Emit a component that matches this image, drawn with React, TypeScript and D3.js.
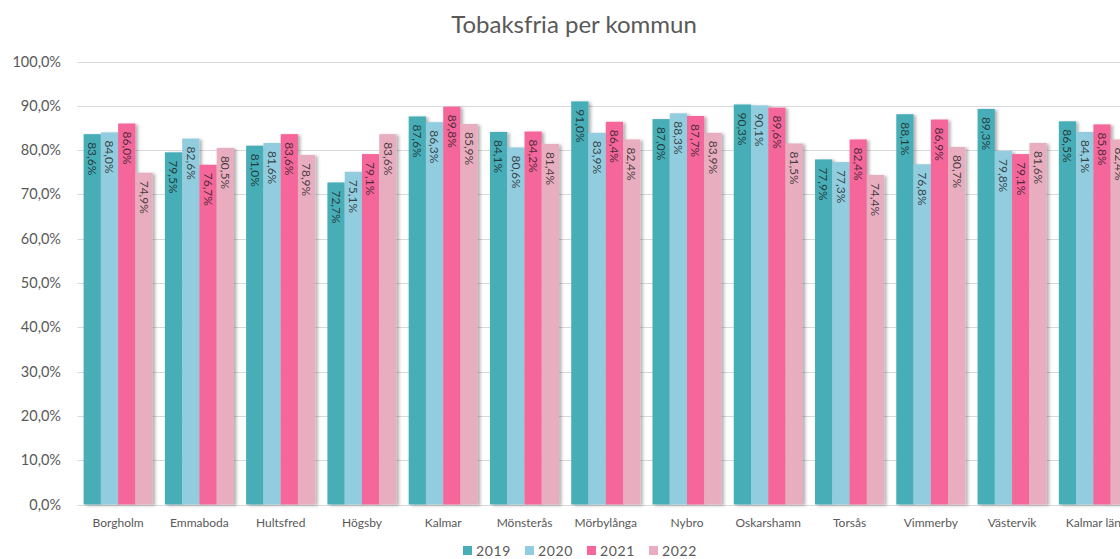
import React from 'react';
import * as d3 from 'd3';

// kommuner
const categories = ['Borgholm', 'Emmaboda', 'Hultsfred', 'Högsby', 'Kalmar', 'Mönsterås', 'Mörbylånga', 'Nybro', 'Oskarshamn', 'Torsås', 'Vimmerby', 'Västervik', 'Kalmar län'];
const years = ['2019', '2020', '2021', '2022'];

// andel tobaksfria per år (%)
const v2019 = [83.6, 79.5, 81.0, 72.7, 87.6, 84.1, 91.0, 87.0, 90.3, 77.9, 88.1, 89.3, 86.5];
const v2020 = [84.0, 82.6, 81.6, 75.1, 86.3, 80.6, 83.9, 88.3, 90.1, 77.3, 76.8, 79.8, 84.1];
const v2021 = [86.0, 76.7, 83.6, 79.1, 89.8, 84.2, 86.4, 87.7, 89.6, 82.4, 86.9, 79.1, 85.8];
const v2022 = [74.9, 80.5, 78.9, 83.6, 85.9, 81.4, 82.4, 83.9, 81.5, 74.4, 80.7, 81.6, 82.4];
const series = [v2019, v2020, v2021, v2022];

const yTicks = [0, 10, 20, 30, 40, 50, 60, 70, 80, 90, 100];
const colors = ['#47aeb7', '#92cddf', '#f5669b', '#e8aec0'];

const W = 1120;
const H = 559;
const font = 'Lato, "Open Sans", sans-serif';

const fmt = (v: number) => v.toFixed(1).replace('.', ',') + '%';

const App = () => {
  const x = d3.scaleBand<string>()
    .domain(categories)
    .range([77.5, 1134])
    .paddingInner(0.15)
    .paddingOuter(0.075);

  const x1 = d3.scaleBand<string>()
    .domain(years)
    .range([0, x.bandwidth()])
    .padding(0);

  const y = d3.scaleLinear().domain([0, 100]).range([504.5, 61.5]);

  return (
    <svg width={W} height={H} style={{ position: 'absolute', left: 0, top: 0, background: '#fff' }} fontFamily={font}>
      <defs>
        <filter id="shadow" x="-20%" y="-5%" width="160%" height="115%">
          <feDropShadow dx="2.5" dy="1" stdDeviation="1.5" floodColor="#000" floodOpacity="0.3" />
        </filter>
      </defs>

      <text x={574} y={33} textAnchor="middle" fontSize={24} fill="#595959">Tobaksfria per kommun</text>

      {/* grid */}
      {yTicks.map(t => (
        <g key={t}>
          <line x1={77.5} x2={W} y1={Math.round(y(t)) + 0.5} y2={Math.round(y(t)) + 0.5} stroke="#d9d9d9" strokeWidth={1} />
          <text x={61} y={y(t)} dy="0.35em" textAnchor="end" fontSize={14.5} fill="#595959">
            {t.toFixed(1).replace('.', ',') + '%'}
          </text>
        </g>
      ))}

      {/* bars */}
      {categories.map((c, i) => (
        <g key={c} transform={`translate(${x(c)},0)`}>
          {series.map((s, j) => (
            <rect key={j} x={x1(years[j])} y={y(s[i])} width={x1.bandwidth()} height={y(0) - y(s[i])}
              fill={colors[j]} filter="url(#shadow)" />
          ))}
          {series.map((s, j) => {
            const cx = (x1(years[j]) as number) + x1.bandwidth() / 2;
            const ty = y(s[i]) + 8;
            return (
              <text key={'t' + j} transform={`translate(${cx},${ty}) rotate(90)`} dy="0.35em" fontSize={12}
                fill="#1a1a1a" fillOpacity={0.8}>
                {fmt(s[i])}
              </text>
            );
          })}
          <text x={x.bandwidth() / 2} y={527} textAnchor="middle" fontSize={12} fill="#595959">{c}</text>
        </g>
      ))}

      {/* legend */}
      {years.map((yr, j) => (
        <g key={yr} transform={`translate(${463 + j * 62},0)`}>
          <rect x={0} y={546} width={9} height={9} fill={colors[j]} />
          <text x={13} y={551} dy="0.38em" fontSize={14} fill="#595959" letterSpacing={0.6}>{yr}</text>
        </g>
      ))}
    </svg>
  );
};

export default App;
